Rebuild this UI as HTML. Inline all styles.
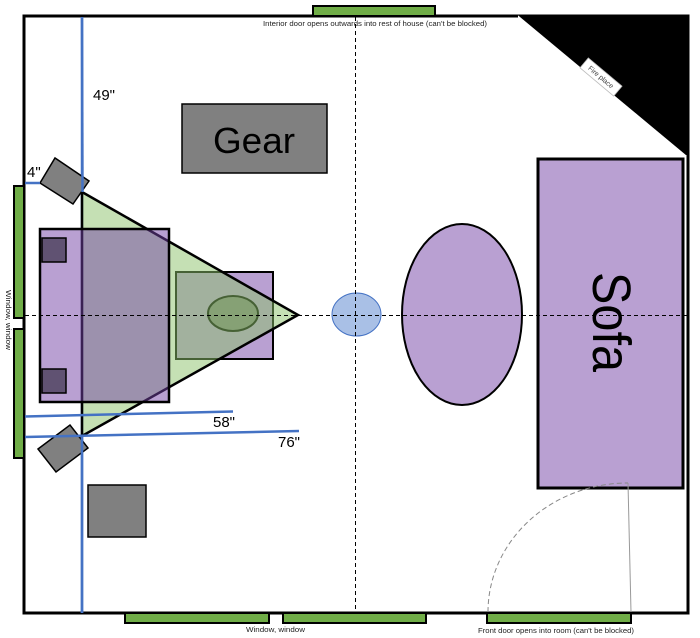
<!DOCTYPE html>
<html>
<head>
<meta charset="utf-8">
<style>
  html,body{margin:0;padding:0;background:#fff;}
  svg{display:block;}
  text{font-family:"Liberation Sans",sans-serif;}
</style>
</head>
<body>
<svg width="700" height="638" viewBox="0 0 700 638" xmlns="http://www.w3.org/2000/svg">
  <rect x="0" y="0" width="700" height="638" fill="#fff"/>

  <!-- fireplace corner -->
  <polygon points="517,14.5 689.5,14.5 689.5,158" fill="#000"/>

  <!-- walls -->
  <polyline points="518,16 24,16 24,613 688,613 688,156" fill="none" stroke="#000" stroke-width="3"/>

  <!-- fire place label -->
  <g transform="translate(601,77) rotate(40)">
    <rect x="-22" y="-6.5" width="44" height="13" fill="#fff" stroke="#bbb" stroke-width="0.8"/>
    <text x="0" y="2.5" font-size="7" fill="#444" text-anchor="middle">Fire place</text>
  </g>

  <!-- windows / doors -->
  <rect x="313" y="6" width="122" height="10" fill="#70AD47" stroke="#000" stroke-width="2"/>
  <rect x="14" y="186" width="10" height="132" fill="#70AD47" stroke="#000" stroke-width="2"/>
  <rect x="14" y="329" width="10" height="129" fill="#70AD47" stroke="#000" stroke-width="2"/>
  <rect x="125" y="613" width="144" height="10" fill="#70AD47" stroke="#000" stroke-width="2"/>
  <rect x="283" y="613" width="143" height="10" fill="#70AD47" stroke="#000" stroke-width="2"/>
  <rect x="487" y="613" width="144" height="10" fill="#70AD47" stroke="#000" stroke-width="2"/>

  <!-- small labels -->
  <text x="263" y="26" font-size="7" fill="#222" textLength="224" lengthAdjust="spacingAndGlyphs">Interior door opens outwards into rest of house (can't be blocked)</text>
  <text x="246" y="632" font-size="7" fill="#222" textLength="59" lengthAdjust="spacingAndGlyphs">Window, window</text>
  <text x="478" y="633" font-size="7" fill="#222" textLength="156" lengthAdjust="spacingAndGlyphs">Front door opens into room (can't be blocked)</text>
  <text transform="translate(6,290) rotate(90)" font-size="7" fill="#222" textLength="60" lengthAdjust="spacingAndGlyphs">Window, window</text>

  <!-- Gear -->
  <rect x="182" y="104" width="145" height="69" fill="#808080" stroke="#000" stroke-width="1.5"/>
  <text x="254" y="153" font-size="36" fill="#000" text-anchor="middle" textLength="82" lengthAdjust="spacingAndGlyphs">Gear</text>

  <!-- bottom gray square -->
  <rect x="88" y="485" width="58" height="52" fill="#808080" stroke="#000" stroke-width="1.5"/>

  <!-- sofa -->
  <rect x="538" y="159" width="145" height="329" fill="#B9A0D2" stroke="#000" stroke-width="3"/>
  <text transform="translate(593,272) rotate(90)" font-size="54" fill="#000" textLength="100" lengthAdjust="spacingAndGlyphs">Sofa</text>

  <!-- door swing -->
  <path d="M488,612 A140,129 0 0 1 628,483" fill="none" stroke="#888" stroke-width="1" stroke-dasharray="5,3"/>
  <line x1="628" y1="483" x2="631" y2="612" stroke="#999" stroke-width="1"/>

  <!-- ottoman / table -->
  <ellipse cx="462" cy="314.5" rx="60" ry="90.5" fill="#B9A0D2" stroke="#000" stroke-width="2"/>
  <ellipse cx="356.5" cy="314.5" rx="24.5" ry="21.5" fill="#A9C0E6" stroke="#4472C4" stroke-width="1"/>

  <!-- small purple rect (under triangle) -->
  <rect x="176" y="272" width="97" height="87" fill="#B9A0D2" stroke="#000" stroke-width="2"/>
  <ellipse cx="233" cy="313.5" rx="25" ry="17.5" fill="#808080" stroke="#000" stroke-width="2"/>

  <!-- blue vertical line under triangle -->
  <line x1="82" y1="17" x2="82" y2="613" stroke="#4472C4" stroke-width="2.5"/>

  <!-- listening triangle -->
  <polygon points="82,192 298,315 82,436" fill="#8BC169" fill-opacity="0.5" stroke="#000" stroke-width="2.5"/>

  <!-- big purple desk (over triangle, semi-transparent) -->
  <rect x="40" y="229" width="129" height="173" fill="#7341A5" fill-opacity="0.5" stroke="#000" stroke-width="2.5"/>
  <rect x="42" y="238" width="24" height="24" fill="#605272" stroke="#000" stroke-width="1.5"/>
  <rect x="42" y="369" width="24" height="24" fill="#605272" stroke="#000" stroke-width="1.5"/>

  <!-- speakers -->
  <polygon points="40,183 55,158 89,181 73,204" fill="#808080" stroke="#000" stroke-width="1.5"/>
  <polygon points="38,449 70,425 88,448 56,472" fill="#808080" stroke="#000" stroke-width="1.5"/>

  <!-- blue measurement lines on top -->
  <line x1="82" y1="17" x2="82.5" y2="192" stroke="#4472C4" stroke-width="2.5"/>
  <line x1="82" y1="436" x2="82" y2="613" stroke="#4472C4" stroke-width="2.5"/>
  <line x1="25" y1="183" x2="40" y2="183" stroke="#4472C4" stroke-width="2.5"/>
  <line x1="25" y1="416.5" x2="233" y2="411.5" stroke="#4472C4" stroke-width="2.5"/>
  <line x1="25" y1="437" x2="299" y2="431" stroke="#4472C4" stroke-width="2.5"/>

  <!-- measurement labels -->
  <text x="93" y="100" font-size="15" fill="#000">49"</text>
  <text x="27" y="177" font-size="15" fill="#000">4"</text>
  <text x="213" y="427" font-size="15" fill="#000">58"</text>
  <text x="278" y="447" font-size="15" fill="#000">76"</text>

  <!-- center dashed lines -->
  <line x1="355.5" y1="17" x2="355.5" y2="612" stroke="#000" stroke-width="1" stroke-dasharray="4,3"/>
  <line x1="25" y1="315.5" x2="687" y2="315.5" stroke="#000" stroke-width="1" stroke-dasharray="4,3"/>
</svg>
</body>
</html>
